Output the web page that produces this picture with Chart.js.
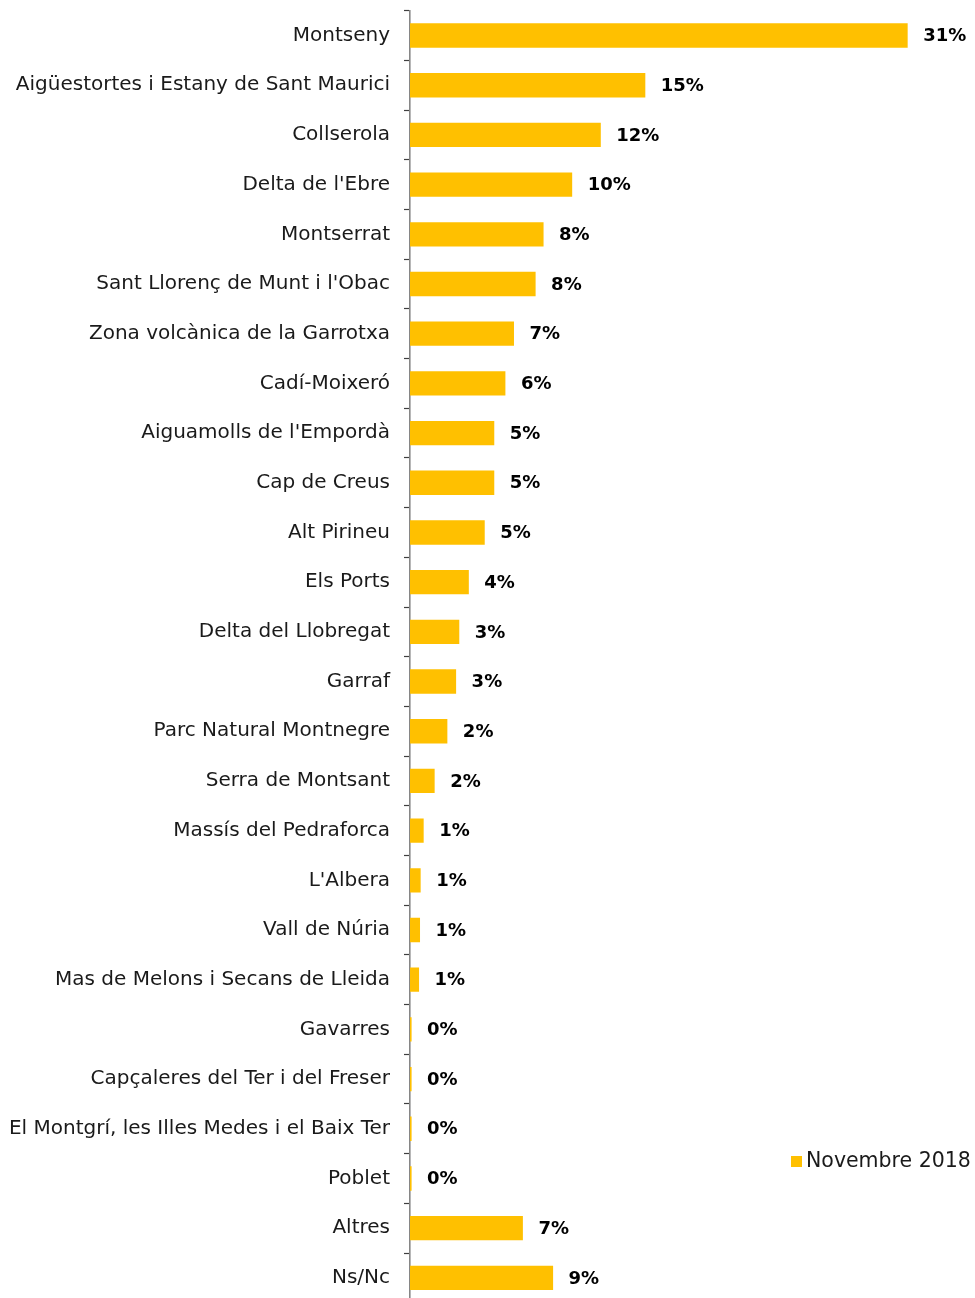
<!DOCTYPE html>
<html>
<head>
<meta charset="utf-8">
<script src="https://cdn.jsdelivr.net/npm/chart.js@4"></script>
<style>
  html, body { margin: 0; padding: 0; background: #fff; overflow: hidden; }
  #wrap { position: relative; width: 975px; height: 1303px; }
</style>
</head>
<body>
<div id="wrap"><canvas id="ParcsChart"></canvas></div>
<script>
// parcs naturals, percentatge de respostes
const parcs = [
  'Montseny',
  'Aigüestortes i Estany de Sant Maurici',
  'Collserola',
  "Delta de l'Ebre",
  'Montserrat',
  "Sant Llorenç de Munt i l'Obac",
  'Zona volcànica de la Garrotxa',
  'Cadí-Moixeró',
  "Aiguamolls de l'Empordà",
  'Cap de Creus',
  'Alt Pirineu',
  'Els Ports',
  'Delta del Llobregat',
  'Garraf',
  'Parc Natural Montnegre',
  'Serra de Montsant',
  'Massís del Pedraforca',
  "L'Albera",
  'Vall de Núria',
  'Mas de Melons i Secans de Lleida',
  'Gavarres',
  'Capçaleres del Ter i del Freser',
  'El Montgrí, les Illes Medes i el Baix Ter',
  'Poblet',
  'Altres',
  'Ns/Nc'
];
const nov2018 = [31.3, 14.8, 12.0, 10.2, 8.4, 7.9, 6.54, 6.0, 5.3, 5.3, 4.7, 3.7, 3.1, 2.9, 2.35, 1.55,
                 0.86, 0.67, 0.63, 0.57, 0.1, 0.1, 0.1, 0.1, 7.1, 9.0];
const serieLabel = 'Novembre 2018';
const xMax = 35;

const groc = '#FFC000';

// etiquetes de valor a la dreta de cada barra
const valueLabels = {
  id: 'valueLabels',
  afterDatasetsDraw(chart){
    const ctx = chart.ctx;
    const meta = chart.getDatasetMeta(0);
    ctx.save();
    ctx.font = 'bold 18px "DejaVu Sans"';
    ctx.fillStyle = '#000';
    ctx.textAlign = 'left';
    ctx.textBaseline = 'middle';
    meta.data.forEach(function(bar, i){
      ctx.fillText(Math.round(nov2018[i]) + '%', bar.x + 15.5, bar.y + 1);
    });
    ctx.restore();
  }
};

// llegenda a baix a la dreta
const llegenda = {
  id: 'llegenda',
  afterDraw(chart){
    const ctx = chart.ctx;
    ctx.save();
    ctx.fillStyle = groc;
    ctx.fillRect(791, 1156, 11, 11);
    ctx.font = '20.5px "DejaVu Sans"';
    ctx.fillStyle = '#1a1a1a';
    ctx.textAlign = 'left';
    ctx.textBaseline = 'middle';
    ctx.fillText(chart.data.datasets[0].label, 806, 1162);
    ctx.restore();
  }
};

const data = {
  labels: parcs,
  datasets: [
    {
      label: serieLabel,
      data: nov2018,
      backgroundColor: groc,
      borderWidth: 0,
      categoryPercentage: 1,
      barPercentage: 0.49
    }
  ]
};

const option = {
  indexAxis: 'y',
  responsive: true,
  maintainAspectRatio: false,
  animation: false,
  layout: { padding: { top: 10.7, bottom: 0.3, right: 8.5, left: 0 } },
  plugins: {
    legend: { display: false },
    tooltip: { enabled: false }
  },
  scales: {
    x: {
      display: false,
      min: 0,
      max: xMax
    },
    y: {
      afterFit: function(scale){
        scale.width = 410;
        scale.paddingTop = 0;   // sense marge extra per les etiquetes
        scale.paddingBottom = 0;
      },
      grid: {
        offset: true,
        drawOnChartArea: false,
        drawTicks: true,
        tickLength: 6,
        tickColor: '#404040',
        tickWidth: 1.2
      },
      border: { display: true, color: '#868686', width: 1.6 },
      ticks: {
        padding: 14,
        color: '#1a1a1a',
        font: { family: 'DejaVu Sans', size: 20 }
      }
    }
  }
};

const config = {
  type: 'bar',
  data: data,
  options: option,
  plugins: [valueLabels, llegenda]
};
const myChart = new Chart(document.getElementById('ParcsChart'), config);
</script>
</body>
</html>
